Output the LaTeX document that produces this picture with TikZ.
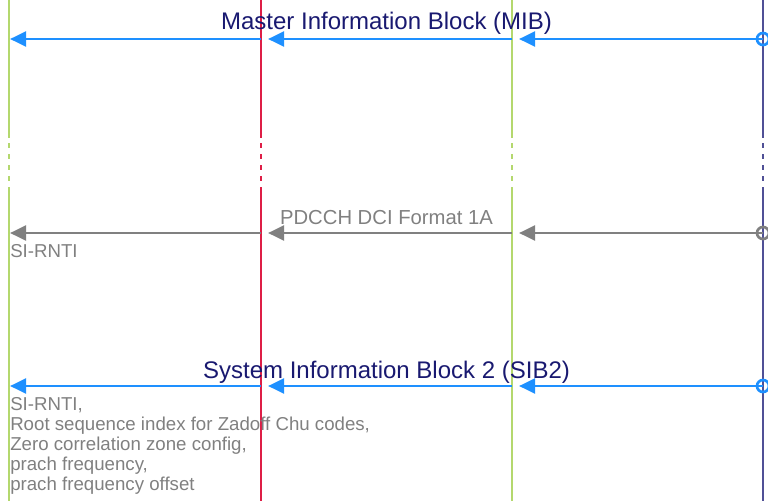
\documentclass[tikz,border=0pt]{standalone}
\usepackage{fontspec}
\setmainfont{Liberation Sans}
\usetikzlibrary{arrows.meta,calc}
\definecolor{msgblue}{RGB}{30,144,255}
\definecolor{msgnavy}{RGB}{25,25,112}
\definecolor{msggray}{RGB}{128,128,128}
\definecolor{lifegreen}{RGB}{180,216,110}
\definecolor{lifered}{RGB}{222,30,70}
\definecolor{lifenavy}{RGB}{80,80,150}

\begin{document}
\begin{tikzpicture}[x=0.75pt,y=0.75pt,yscale=-1,xscale=1,
    life/.style={line width=1.1pt},
    msg/.style={line width=2.2pt,-{Triangle[length=12pt,width=11pt]}},
    msgtitle/.style={anchor=base,inner sep=0pt,text=msgnavy,font=\fontsize{18}{21}\selectfont},
    note/.style={anchor=base west,inner sep=0pt,text=msggray,align=left,font=\fontsize{14}{15}\selectfont}]
\useasboundingbox (0,0) rectangle (768,501);

% lifelines
\foreach \lx/\lc [count=\i] in {9/lifegreen,261/lifered,512/lifegreen,763/lifenavy}{
    \coordinate (top\i) at (\lx,0);
    \coordinate (gapa\i) at (\lx,138);
    \coordinate (gapb\i) at (\lx,187);
    \coordinate (bot\i) at (\lx,501);
    \draw [life,\lc] (top\i) -- (gapa\i);
    \draw [life,\lc,dash pattern=on 3.75pt off 4.5pt,dash phase=4.5pt] (gapa\i) -- (gapb\i);
    \draw [life,\lc] (gapb\i) -- (bot\i);
}

% message points
\foreach \m/\my in {mib/39,dci/233,sib/386}{
    \foreach \lx [count=\i] in {9,261,512,763}
        \coordinate (\m\i) at (\lx,\my);
}

% MIB
\draw [msgblue,line width=2pt] (mib4) circle [radius=6];
\draw [msg,msgblue] (mib4) -- ([xshift=5.25pt]mib3);
\draw [msg,msgblue] (mib3) -- ([xshift=5.25pt]mib2);
\draw [msg,msgblue] (mib2) -- ([xshift=0.75pt]mib1);
\node [msgtitle] (mibtext) at ($(mib2)!0.5!(mib3)+(0,-9.5)$) {Master Information Block (MIB)};

% PDCCH
\draw [msggray,line width=2pt] (dci4) circle [radius=6];
\draw [msg,msggray] (dci4) -- ([xshift=5.25pt]dci3);
\draw [msg,msggray] (dci3) -- ([xshift=5.25pt]dci2);
\draw [msg,msggray] (dci2) -- ([xshift=0.75pt]dci1);
\node [msgtitle,text=msggray,font=\fontsize{15.2}{18}\selectfont] (dcitext) at ($(dci2)!0.5!(dci3)+(0,-9)$) {PDCCH DCI Format 1A};
\node [note] (dcinote) at ($(dci1)+(1,24)$) {SI-RNTI};

% SIB2 (base of a multi-line note is its last line)
\draw [msgblue,line width=2pt] (sib4) circle [radius=6];
\draw [msg,msgblue] (sib4) -- ([xshift=5.25pt]sib3);
\draw [msg,msgblue] (sib3) -- ([xshift=5.25pt]sib2);
\draw [msg,msgblue] (sib2) -- ([xshift=0.75pt]sib1);
\node [msgtitle] (sibtext) at ($(sib2)!0.5!(sib3)+(0,-8)$) {System Information Block 2 (SIB2)};
\node [note] (sibnote) at ($(sib1)+(1,104.7)$) {SI-RNTI,\\Root sequence index for Zadoff Chu codes,\\Zero correlation zone config,\\prach frequency,\\prach frequency offset};
\end{tikzpicture}
\end{document}
